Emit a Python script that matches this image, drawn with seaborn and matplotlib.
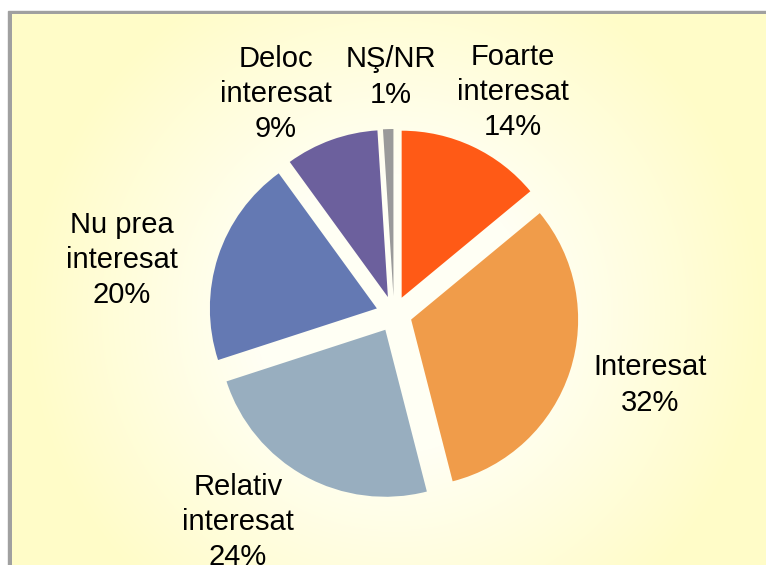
import numpy as np
import matplotlib
matplotlib.use("Agg")
import matplotlib.pyplot as plt
import matplotlib.patches as mpatches
import seaborn as sns

# data
categories = ["Foarte\ninteresat", "Interesat", "Relativ\ninteresat",
              "Nu prea\ninteresat", "Deloc\ninteresat", "NŞ/NR"]
shares = [14, 32, 24, 20, 9, 1]
colors = ["#FF5A16", "#F09C4A", "#98AEBF", "#6479B3", "#6C609D", "#9A9A9A"]

# label anchor positions in pixel space (image coords, y down)
label_xy = [(513, 92), (650, 385), (238, 522), (122, 260), (276, 94), (391, 77)]

W, H = 766, 565
sns.set_theme(style="white")
plt.rcParams["font.family"] = ["Liberation Sans", "DejaVu Sans"]

fig = plt.figure(figsize=(W / 100, H / 100), dpi=100)
ax = fig.add_axes([0, 0, 1, 1])

# frame + radial yellow gradient background
ax.add_patch(mpatches.Rectangle((8, 0), W - 8, H - 11, color="#A0A0A0", zorder=0))
cx, cy = 394, H - 314
gx, gy = np.meshgrid(np.arange(12, W), np.arange(0, H - 14))
d = np.sqrt((gx - cx) ** 2 + (gy - cy) ** 2)
t = np.clip((d - 140) / 230, 0, 1)[..., None]
inner = np.array([255, 255, 244]) / 255
outer = np.array([255, 252, 200]) / 255
bg = inner * (1 - t) + outer * t
ax.imshow(bg, extent=[12, W, 0, H - 14], origin="lower", zorder=0.5,
          interpolation="bilinear", aspect="auto")

wedges, _ = ax.pie(shares, colors=colors, startangle=90, counterclock=False,
                   explode=[18] * len(shares), center=(cx, cy), radius=167,
                   wedgeprops=dict(linewidth=0))
for w in wedges:
    w.set_zorder(2)

for lab, val, (lx, ly) in zip(categories, shares, label_xy):
    ax.text(lx, H - ly, f"{lab}\n{val}%", ha="center", va="center",
            fontsize=21, color="black", linespacing=1.32, zorder=3)

ax.set_xlim(0, W)
ax.set_ylim(0, H)
ax.set_aspect("auto")
ax.axis("off")
fig.savefig("out.png", dpi=100, facecolor="white")
